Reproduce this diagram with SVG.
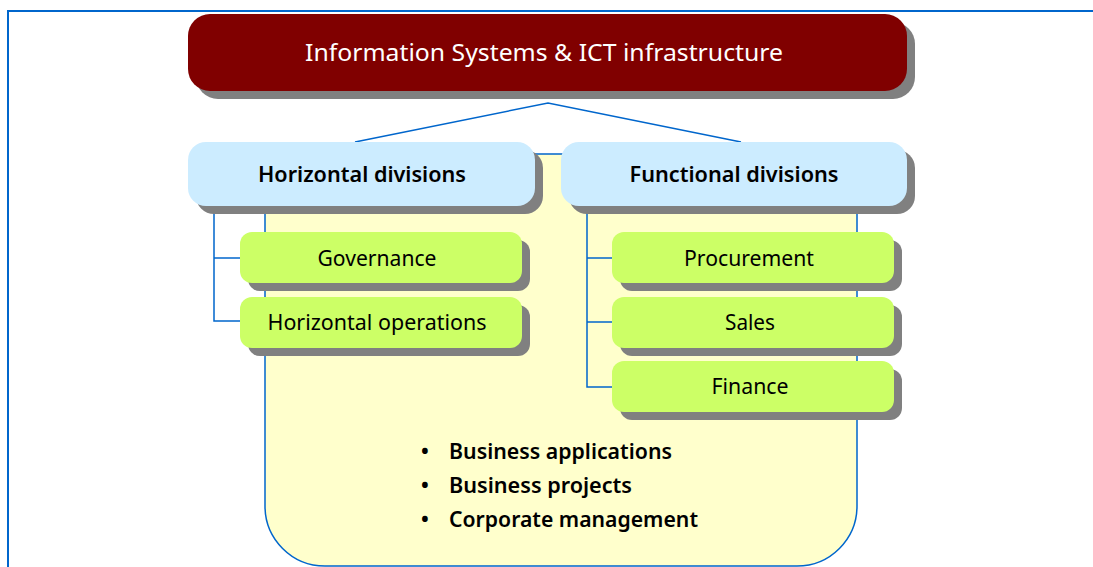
<svg xmlns="http://www.w3.org/2000/svg" width="1093" height="567" viewBox="0 0 1093 567">
<style>
.sh{fill:#808080}
.ln{fill:none;stroke:#0066CC;stroke-width:1.5}
.t{font-family:"Noto Sans","DejaVu Sans",sans-serif;text-anchor:middle}
.w{fill:#FFFFFF;font-size:24px}
.d{fill:#000000;font-size:22px;font-weight:600}
.g{fill:#000000;font-size:22.5px}
.b{fill:#000000;font-size:22px;font-weight:600;font-family:"Noto Sans","DejaVu Sans",sans-serif}
.hd{fill:#CCECFF}
.gr{fill:#CCFF66}
</style>
<rect x="0" y="0" width="1093" height="567" fill="#FFFFFF"/>
<path d="M8,567 L8,11 L1093,11" fill="none" stroke="#0066CC" stroke-width="2"/>
<g id="scope">
<path d="M265,154 L857,154 L857,506 A60,60 0 0 1 797,566 L325,566 A60,60 0 0 1 265,506 Z" fill="#FFFFCC" stroke="#0066CC" stroke-width="1.5"/>
<text class="b" x="425" y="459" text-anchor="middle">•</text>
<text class="b" x="449" y="459" textLength="223" lengthAdjust="spacingAndGlyphs">Business applications</text>
<text class="b" x="425" y="493" text-anchor="middle">•</text>
<text class="b" x="449" y="493" textLength="183" lengthAdjust="spacingAndGlyphs">Business projects</text>
<text class="b" x="425" y="527" text-anchor="middle">•</text>
<text class="b" x="449" y="527" textLength="249" lengthAdjust="spacingAndGlyphs">Corporate management</text>
</g>
<g id="connectors">
<polyline class="ln" points="355,142 548,103 741,142"/>
<polyline class="ln" points="214,212 214,321 240,321"/>
<line class="ln" x1="214" y1="258" x2="240" y2="258"/>
<polyline class="ln" points="587,212 587,387 612,387"/>
<line class="ln" x1="587" y1="258" x2="612" y2="258"/>
<line class="ln" x1="587" y1="322" x2="612" y2="322"/>
</g>
<g id="title">
<rect class="sh" x="196" y="22" width="719" height="77" rx="22"/>
<rect x="188" y="14" width="719" height="77" rx="22" fill="#800000"/>
<text class="t w" x="544" y="61" textLength="478" lengthAdjust="spacingAndGlyphs">Information Systems &amp; ICT infrastructure</text>
</g>
<g id="horizontal-divisions">
<rect class="sh" x="196" y="150" width="347" height="64" rx="18"/>
<rect class="hd" x="188" y="142" width="347" height="64" rx="18"/>
<text class="t d" x="362" y="182" textLength="208" lengthAdjust="spacingAndGlyphs">Horizontal divisions</text>
</g>
<g id="functional-divisions">
<rect class="sh" x="569" y="150" width="346" height="64" rx="18"/>
<rect class="hd" x="561" y="142" width="346" height="64" rx="18"/>
<text class="t d" x="734" y="182" textLength="209" lengthAdjust="spacingAndGlyphs">Functional divisions</text>
</g>
<g id="governance">
<rect class="sh" x="248" y="240" width="282" height="51" rx="12"/>
<rect class="gr" x="240" y="232" width="282" height="51" rx="12"/>
<text class="t g" x="377" y="266" textLength="119" lengthAdjust="spacingAndGlyphs">Governance</text>
</g>
<g id="horizontal-operations">
<rect class="sh" x="248" y="305" width="282" height="51" rx="12"/>
<rect class="gr" x="240" y="297" width="282" height="51" rx="12"/>
<text class="t g" x="377" y="330" textLength="219" lengthAdjust="spacingAndGlyphs">Horizontal operations</text>
</g>
<g id="procurement">
<rect class="sh" x="620" y="240" width="282" height="51" rx="12"/>
<rect class="gr" x="612" y="232" width="282" height="51" rx="12"/>
<text class="t g" x="749" y="266" textLength="130" lengthAdjust="spacingAndGlyphs">Procurement</text>
</g>
<g id="sales">
<rect class="sh" x="620" y="305" width="282" height="51" rx="12"/>
<rect class="gr" x="612" y="297" width="282" height="51" rx="12"/>
<text class="t g" x="750" y="330" textLength="50" lengthAdjust="spacingAndGlyphs">Sales</text>
</g>
<g id="finance">
<rect class="sh" x="620" y="369" width="282" height="51" rx="12"/>
<rect class="gr" x="612" y="361" width="282" height="51" rx="12"/>
<text class="t g" x="750" y="394" textLength="77" lengthAdjust="spacingAndGlyphs">Finance</text>
</g>
</svg>
